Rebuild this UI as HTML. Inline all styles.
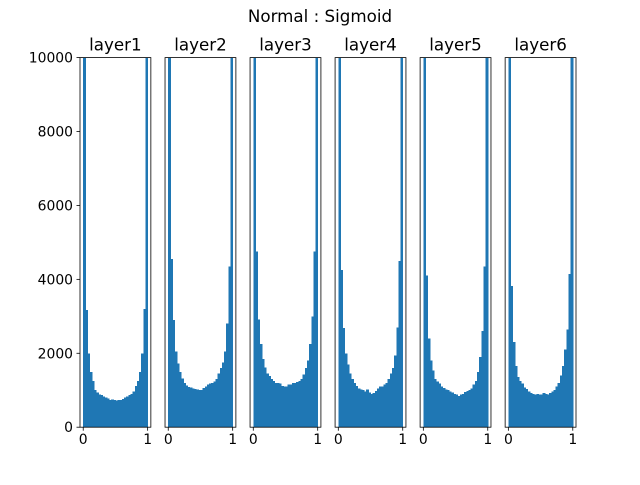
<!DOCTYPE html>
<html><head><meta charset="utf-8"><style>
html,body{margin:0;padding:0;background:#fff;}
svg text{font-family:"DejaVu Sans","Liberation Sans",sans-serif;fill:#000;}
</style></head><body>
<svg id="chart" width="640" height="480" viewBox="0 0 640 480" xmlns="http://www.w3.org/2000/svg">
<rect width="640" height="480" fill="#fff"/>
<text x="320" y="22" font-size="16.7" text-anchor="middle">Normal : Sigmoid</text>
</svg>
<script>
const layerNames = ["layer1","layer2","layer3","layer4","layer5","layer6"];
const layer1 = [12000,3170,1990,1490,1250,1010,940,880,870,830,800,770,730,750,740,720,730,740,760,800,830,870,900,960,1120,1250,1490,1990,3200,12000];
const layer2 = [12000,4550,2900,2050,1720,1490,1320,1200,1130,1090,1070,1050,1040,1020,1000,1010,1060,1100,1150,1180,1200,1230,1300,1450,1600,1750,2050,2800,4350,12000];
const layer3 = [12000,4750,2920,2250,1850,1620,1450,1380,1300,1250,1200,1200,1180,1120,1100,1100,1150,1150,1200,1200,1220,1250,1300,1420,1600,1800,2250,3000,4750,12000];
const layer4 = [12000,4250,2680,2000,1690,1450,1310,1200,1120,1050,1020,1000,960,1020,940,900,920,980,1050,1100,1100,1150,1200,1300,1450,1600,1940,2700,4500,12000];
const layer5 = [12000,4100,2400,1800,1530,1300,1240,1180,1100,1060,1020,1010,960,940,900,880,840,880,900,950,980,1000,1050,1150,1250,1500,1900,2600,4350,12000];
const layer6 = [12000,3820,2300,1650,1360,1250,1180,1080,1030,960,930,900,880,900,890,880,920,900,880,930,960,1000,1100,1200,1400,1650,2100,2650,4150,12000];
const yTicks = [0,2000,4000,6000,8000,10000];
const xTicks = [0,1];
const binMin = 0, binMax = 1;

const NS = "http://www.w3.org/2000/svg";
const svgEl = document.getElementById("chart");
const series = [layer1,layer2,layer3,layer4,layer5,layer6];
const axW = 496/(6+5*0.2), axTop = 57.6, axBottom = 427.2;
const yMax = 10000;
function mk(tag, attrs){const e=document.createElementNS(NS,tag);for(const k in attrs)e.setAttribute(k,attrs[k]);return e;}
const yScale = v => axBottom - (v/yMax)*(axBottom-axTop);

series.forEach((vals, i) => {
  const left = 80 + i*axW*1.2;
  const xScale = v => left + (v - (-0.05)) / 1.1 * axW;
  const g = mk("g", {});
  
  
  svgEl.appendChild(g);
  const clip = mk("clipPath", {id: "clip"+i});
  clip.appendChild(mk("rect", {x:left, y:axTop, width:axW, height:axBottom-axTop}));
  g.appendChild(clip);
  const bars = mk("g", {"clip-path": "url(#clip"+i+")", "shape-rendering":"crispEdges"});
  g.appendChild(bars);
  const n = vals.length, bw = (binMax-binMin)/n;
  vals.forEach((v, j) => {
    const x0 = xScale(binMin + j*bw), x1 = xScale(binMin + (j+1)*bw);
    const r = mk("rect", {x:x0, y:yScale(v), width:x1-x0+0.5, height:axBottom-yScale(v), fill:"#1f77b4"});
    
    
    bars.appendChild(r);
  });
  const frame = mk("rect", {x:left, y:axTop, width:axW, height:axBottom-axTop, fill:"none", stroke:"#000", "stroke-width":0.8});
  
  
  g.appendChild(frame);
  const t = mk("text", {x:left+axW/2, y:axTop-7, "font-size":16.7, "text-anchor":"middle"});
  t.textContent = layerNames[i];
  
  
  g.appendChild(t);
  xTicks.forEach(tv => {
    const x = xScale(tv);
    g.appendChild(mk("line", {x1:x, x2:x, y1:axBottom, y2:axBottom+3.5, stroke:"#000", "stroke-width":0.8}));
    const l = mk("text", {x:x, y:axBottom+17, "font-size":13.9, "text-anchor":"middle"});
    l.textContent = tv;
    
    
    g.appendChild(l);
  });
  if (i === 0) {
    yTicks.forEach(tv => {
      const y = yScale(tv);
      g.appendChild(mk("line", {x1:left-3.5, x2:left, y1:y, y2:y, stroke:"#000", "stroke-width":0.8}));
      const l = mk("text", {x:left-7, y:y+5, "font-size":13.9, "text-anchor":"end"});
      l.textContent = tv;
      
      
      g.appendChild(l);
    });
  }
});
</script>
</body></html>
